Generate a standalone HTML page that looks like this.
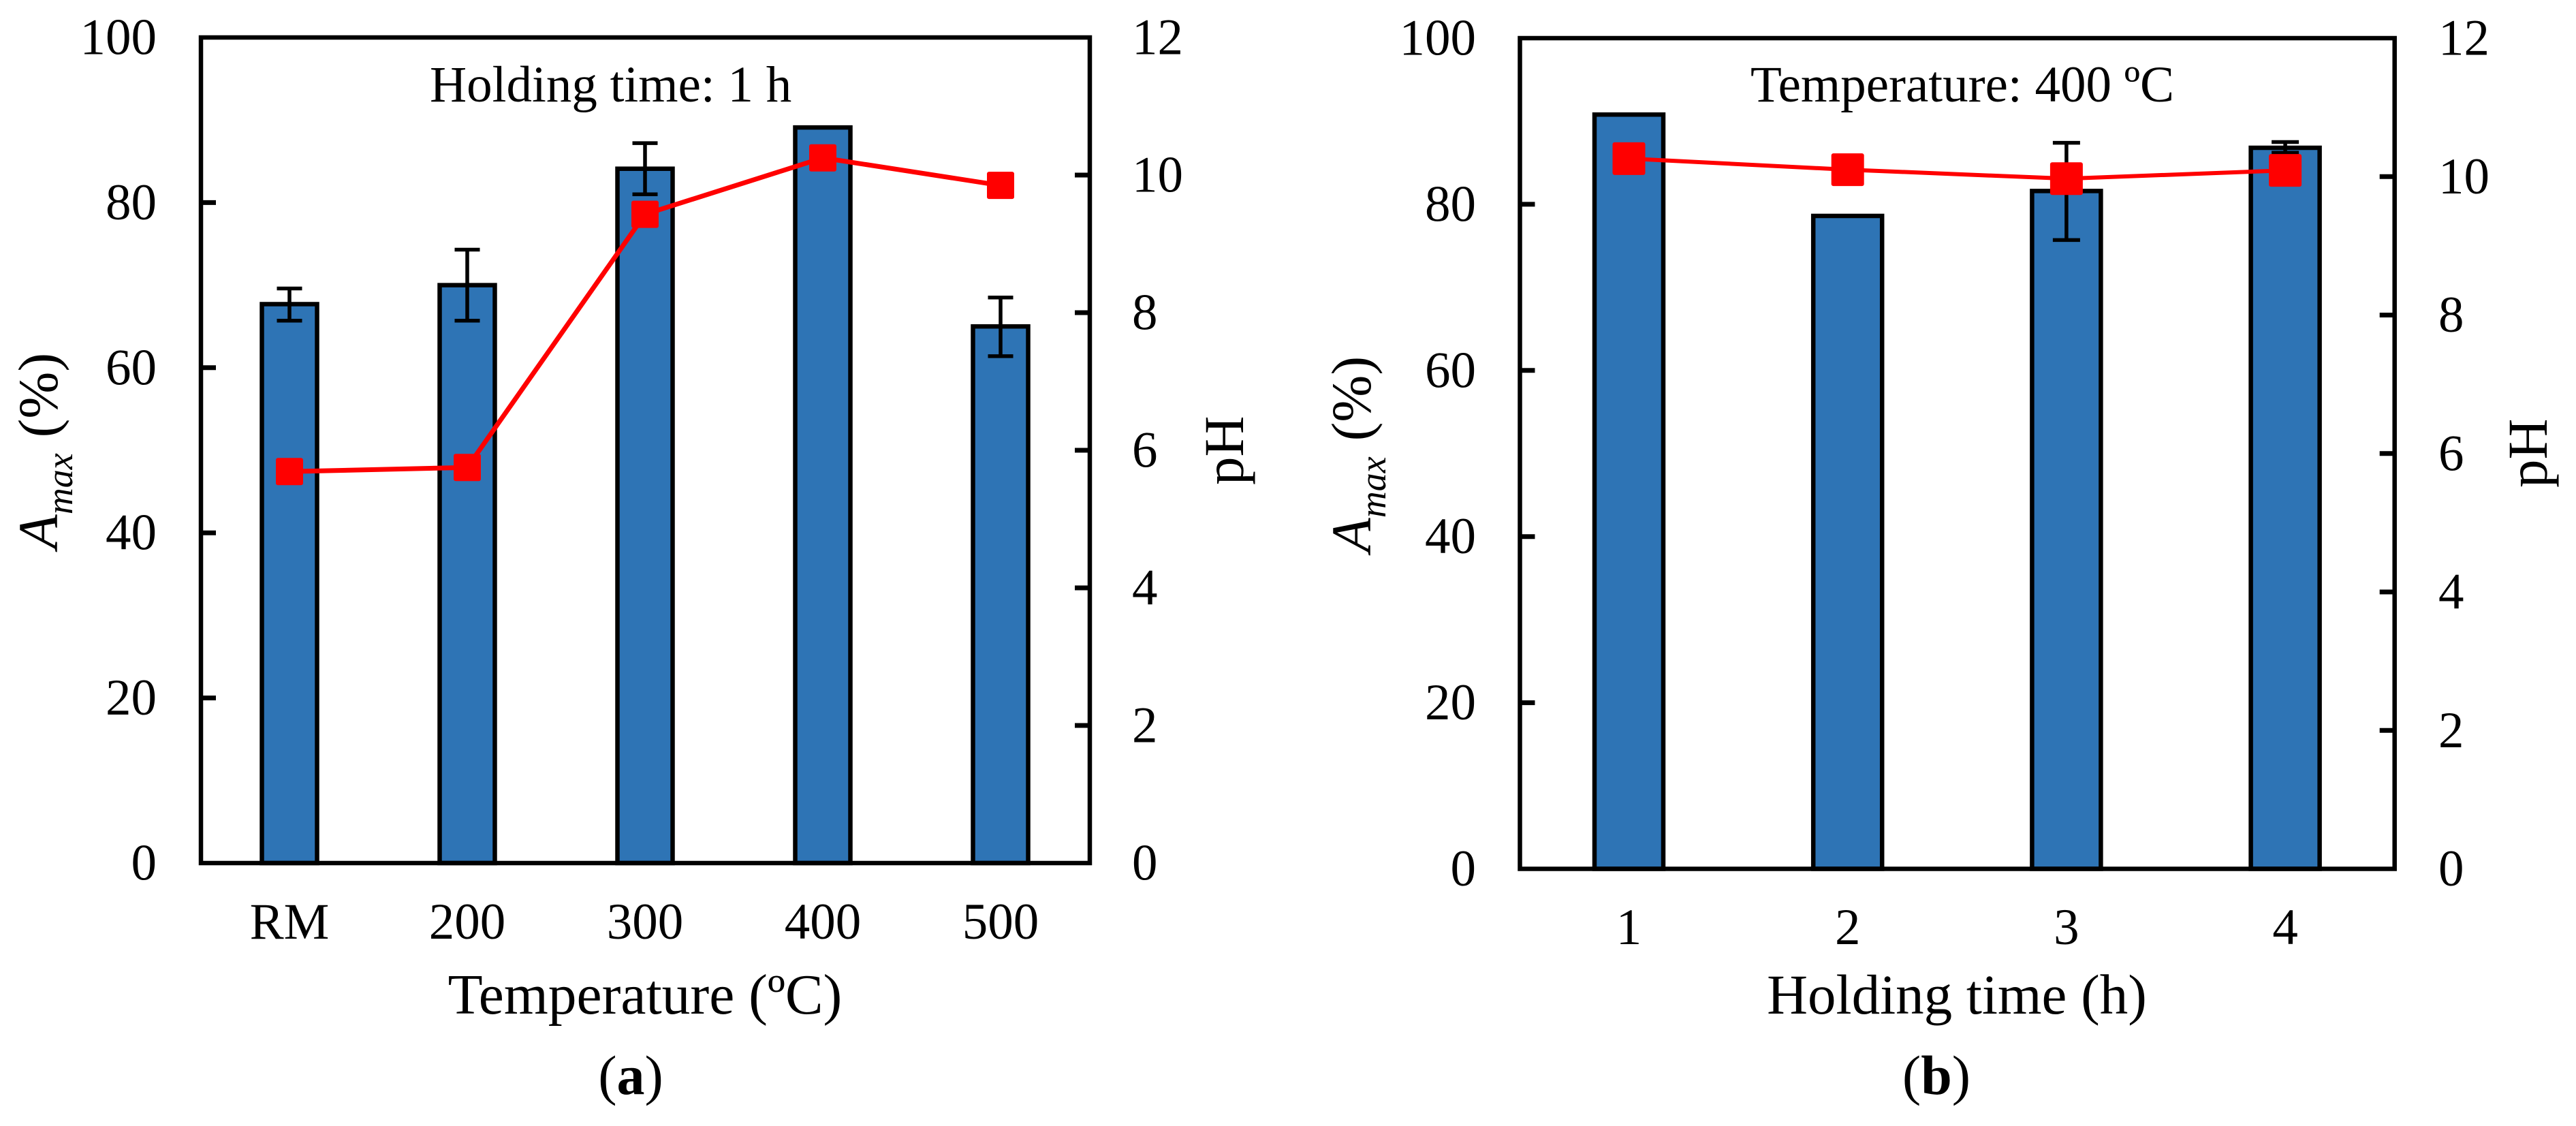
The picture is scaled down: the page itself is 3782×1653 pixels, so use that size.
<!DOCTYPE html>
<html lang="en">
<head>
<meta charset="utf-8">
<title>Amax and pH charts</title>
<style>
html,body{margin:0;padding:0;background:#fff;}
svg{display:block;}
text{font-family:"Liberation Serif","Times New Roman",serif;fill:#000;}
</style>
</head>
<body>
<svg id="figure" xmlns="http://www.w3.org/2000/svg" width="3782" height="1653" viewBox="0 0 3782 1653">
  <rect x="0" y="0" width="3782" height="1653" fill="#fff"/>
  <g id="panel-a"></g>
  <g id="panel-b"></g>

  <text x="631" y="149" font-size="75" xml:space="preserve">Holding time: 1 h</text>
  <text x="947" y="1488" font-size="83.5" text-anchor="middle">Temperature (ºC)</text>
  <text x="926" y="1606" font-size="82" text-anchor="middle">(<tspan font-weight="bold">a</tspan>)</text>
  <text transform="translate(84 806) rotate(-90)" font-size="83" xml:space="preserve"><tspan font-style="italic">A</tspan><tspan font-style="italic" font-size="54" dy="22">max</tspan><tspan dy="-22" dx="23">(%)</tspan></text>
  <text transform="translate(1825 712) rotate(-90)" font-size="83">pH</text>

  <text x="2570" y="149" font-size="75" xml:space="preserve">Temperature: 400 ºC</text>
  <text x="2873" y="1488" font-size="83" text-anchor="middle">Holding time (h)</text>
  <text x="2843" y="1606" font-size="82" text-anchor="middle">(<tspan font-weight="bold">b</tspan>)</text>
  <text transform="translate(2012 811) rotate(-90)" font-size="83" xml:space="preserve"><tspan font-style="italic">A</tspan><tspan font-style="italic" font-size="54" dy="22">max</tspan><tspan dy="-22" dx="23">(%)</tspan></text>
  <text transform="translate(3739 716) rotate(-90)" font-size="83">pH</text>
</svg>
<script>
// Shared axis tick labels
const amaxTicks = [0, 20, 40, 60, 80, 100];
const phTicks = [0, 2, 4, 6, 8, 10, 12];

// Panel (a): varying temperature
const categoriesA = ["RM", "200", "300", "400", "500"];
const amaxA = [67.7, 70.0, 84.1, 89.1, 65.0];
const errHighA = [69.6, 74.3, 87.2, 89.1, 68.5];
const errLowA = [65.7, 65.7, 81.0, 89.1, 61.4];
const phA = [5.69, 5.75, 9.43, 10.25, 9.85];

// Panel (b): varying holding time
const categoriesB = ["1", "2", "3", "4"];
const amaxB = [90.8, 78.6, 81.6, 86.8];
const errHighB = [90.8, 78.6, 87.4, 87.5];
const errLowB = [90.8, 78.6, 75.7, 86.2];
const phB = [10.26, 10.10, 9.97, 10.09];

const NS = "http://www.w3.org/2000/svg";
function make(parent, tag, attrs, text) {
  const el = document.createElementNS(NS, tag);
  for (const k in attrs) el.setAttribute(k, attrs[k]);
  if (text !== undefined) el.textContent = text;
  parent.appendChild(el);
  return el;
}

function drawPanel(p) {
  const root = document.getElementById(p.id);
  const xScale = i => p.firstCenter + i * p.step;
  const yLeft = v => p.bottom - (v / 100) * (p.bottom - p.top);
  const yRight = v => p.bottom - (v / 12) * (p.bottom - p.top);

  // bars
  p.amax.forEach((v, i) => {
    const bar = make(root, "rect", {
      x: xScale(i) - p.barWidth / 2, y: yLeft(v),
      width: p.barWidth, height: p.bottom - yLeft(v),
      fill: "#2e74b5", stroke: "#000", "stroke-width": 6.5
    });
    
    
  });

  // error bars
  p.amax.forEach((v, i) => {
    if (p.errHigh[i] === p.errLow[i]) return;
    const g = make(root, "path", {
      d: "M" + xScale(i) + " " + yLeft(p.errHigh[i]) + "V" + yLeft(p.errLow[i]) +
         "M" + (xScale(i) - p.capWidth / 2) + " " + yLeft(p.errHigh[i]) + "h" + p.capWidth +
         "M" + (xScale(i) - p.capWidth / 2) + " " + yLeft(p.errLow[i]) + "h" + p.capWidth,
      fill: "none", stroke: "#000", "stroke-width": 5.5
    });
    
    
  });

  // frame
  const frame = make(root, "rect", {
    x: p.left, y: p.top, width: p.right - p.left, height: p.bottom - p.top,
    fill: "none", stroke: "#000", "stroke-width": 6.5
  });
  
  

  // left axis
  amaxTicks.forEach(t => {
    const y = yLeft(t);
    if (t !== 0 && t !== 100) {
      const tick = make(root, "line", { x1: p.left, x2: p.left + 22, y1: y, y2: y, stroke: "#000", "stroke-width": 7 });
      
      
    }
    const lab = make(root, "text", { x: p.leftLabelX, y: y + 24.5, "font-size": 75, "text-anchor": "end" }, t);
    
    
  });

  // right axis
  phTicks.forEach(t => {
    const y = yRight(t);
    if (t !== 0 && t !== 12) {
      const tick = make(root, "line", { x1: p.right - 22, x2: p.right, y1: y, y2: y, stroke: "#000", "stroke-width": 7 });
      
      
    }
    const lab = make(root, "text", { x: p.rightLabelX, y: y + 24.5, "font-size": 75 }, t);
    
    
  });

  // category labels
  p.categories.forEach((c, i) => {
    const lab = make(root, "text", { x: xScale(i), y: p.catY, "font-size": 75, "text-anchor": "middle" }, c);
    
    
  });

  // pH line and markers
  const line = make(root, "polyline", {
    points: p.ph.map((v, i) => xScale(i) + "," + yRight(v)).join(" "),
    fill: "none", stroke: "#ff0000", "stroke-width": p.lineWidth
  });
  
  

  p.ph.forEach((v, i) => {
    const m = make(root, "rect", {
      x: xScale(i) - p.marker / 2, y: yRight(v) - p.marker / 2,
      width: p.marker, height: p.marker, rx: 3, ry: 3, fill: "#ff0000"
    });
    
    
  });
}

drawPanel({
  id: "panel-a", key: "a", categories: categoriesA, amax: amaxA, errHigh: errHighA, errLow: errLowA, ph: phA,
  left: 295, right: 1600, top: 55, bottom: 1267, firstCenter: 425, step: 261,
  barWidth: 81, capWidth: 37, marker: 40, lineWidth: 7, leftLabelX: 230, rightLabelX: 1662, catY: 1378
});
drawPanel({
  id: "panel-b", key: "b", categories: categoriesB, amax: amaxB, errHigh: errHighB, errLow: errLowB, ph: phB,
  left: 2231.5, right: 3515.7, top: 56, bottom: 1275.5, firstCenter: 2391.5, step: 321.2,
  barWidth: 101, capWidth: 40, marker: 48, lineWidth: 6, leftLabelX: 2167, rightLabelX: 3580, catY: 1386
});
</script>
</body>
</html>
